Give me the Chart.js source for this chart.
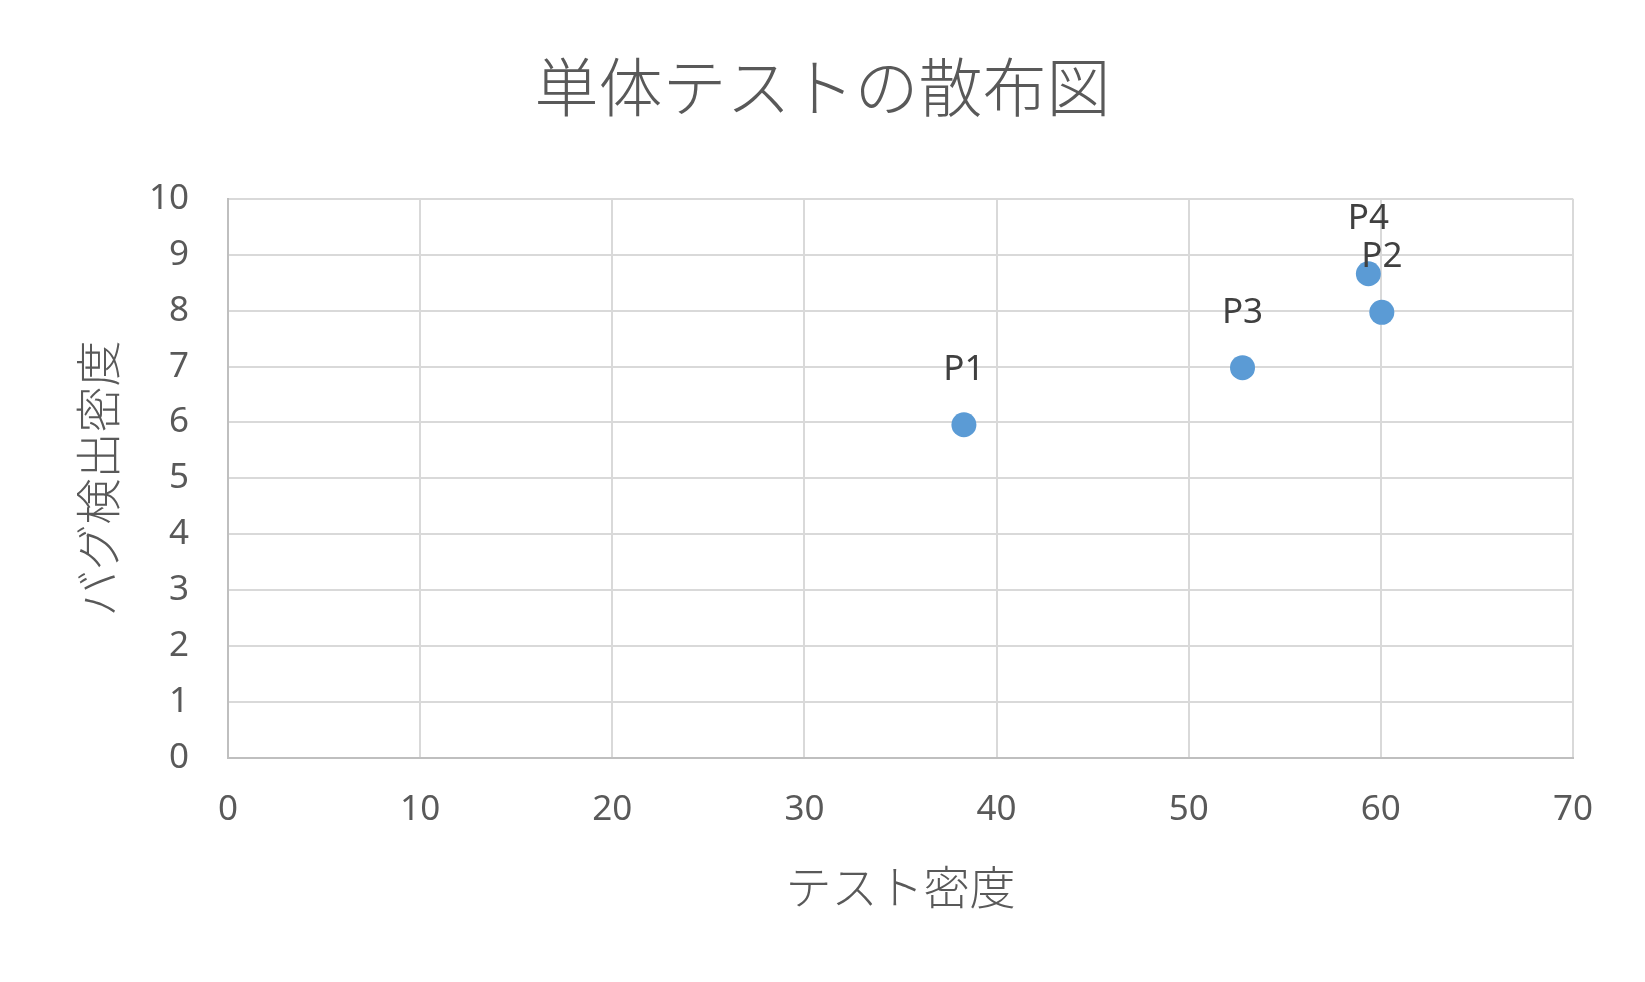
<!DOCTYPE html>
<html>
<head>
<meta charset="utf-8">
<script src="https://cdn.jsdelivr.net/npm/chart.js@4/dist/chart.umd.min.js"></script>
<style>
html,body{margin:0;padding:0;background:#fff;}
#wrap{width:1645px;height:982px;}
</style>
</head>
<body>
<div id="wrap"><canvas id="c" width="1645" height="982"></canvas></div>
<script>
const chartTitle = "単体テストの散布図";
const xAxisTitle = "テスト密度";
const yAxisTitle = "バグ検出密度";
const pointLabels = ["P1", "P2", "P3", "P4"];
const xValues = [38.3, 60.05, 52.8, 59.35];
const yValues = [5.96, 7.97, 6.98, 8.66];
const xTicks = [0, 10, 20, 30, 40, 50, 60, 70];
const yTicks = [0, 1, 2, 3, 4, 5, 6, 7, 8, 9, 10];

const latin = "'Noto Sans', 'Noto Sans CJK JP', sans-serif";
const cjk = "'Noto Sans CJK JP', 'Noto Sans', sans-serif";

const labelPlugin = {
  id: 'pointLabelsPlugin',
  afterDatasetsDraw(chart) {
    const ctx = chart.ctx;
    const meta = chart.getDatasetMeta(0);
    ctx.save();
    ctx.font = "35px " + latin;
    ctx.fillStyle = '#404040';
    ctx.textAlign = 'center';
    ctx.textBaseline = 'middle';
    meta.data.forEach((el, i) => {
      ctx.fillText(pointLabels[i], el.x, el.y - 55);
    });
    ctx.restore();
  }
};

const bgPlugin = {
  id: 'bg',
  beforeDraw(chart) {
    const ctx = chart.ctx;
    ctx.save();
    ctx.fillStyle = '#fff';
    ctx.fillRect(0, 0, chart.width, chart.height);
    ctx.restore();
  }
};

new Chart(document.getElementById('c'), {
  type: 'scatter',
  data: {
    datasets: [{
      data: xValues.map((x, i) => ({x: x, y: yValues[i]})),
      backgroundColor: '#5B9BD5',
      borderWidth: 0,
      pointRadius: 12.5,
      pointHoverRadius: 12.5
    }]
  },
  options: {
    responsive: false,
    animation: false,
    events: [],
    layout: { padding: { left: 0, right: 0, top: 0, bottom: 0 } },
    plugins: {
      legend: { display: false },
      tooltip: { enabled: false },
      title: {
        display: true,
        text: chartTitle,
        color: '#595959',
        font: { family: cjk, size: 64, weight: '300', lineHeight: 1.2 },
        padding: { top: 48, bottom: 74 }
      }
    },
    scales: {
      x: {
        type: 'linear',
        min: 0, max: 70,
        afterFit(s) { s.height = 224; },
        afterBuildTicks(s) { s.ticks = xTicks.map(v => ({value: v})); },
        grid: { color: '#D9D9D9', lineWidth: 2, drawTicks: false },
        border: { color: '#BFBFBF', width: 2 },
        ticks: { color: '#595959', font: { family: latin, size: 35 }, padding: 31 },
        title: {
          display: true, text: xAxisTitle, color: '#595959',
          font: { family: cjk, size: 46, weight: '300', lineHeight: 1.2 },
          padding: { top: 0, bottom: 68 }
        }
      },
      y: {
        type: 'linear',
        min: 0, max: 10,
        afterFit(s) { s.width = 228; },
        afterBuildTicks(s) { s.ticks = yTicks.map(v => ({value: v})); },
        grid: { color: '#D9D9D9', lineWidth: 2, drawTicks: false },
        border: { color: '#BFBFBF', width: 2 },
        ticks: { color: '#595959', font: { family: latin, size: 35 }, padding: 39 },
        title: {
          display: true, text: yAxisTitle, color: '#595959',
          font: { family: cjk, size: 46, weight: '300', lineHeight: 1.2 },
          padding: { top: 70, bottom: 0 }
        }
      },
      yRight: {
        type: 'linear',
        position: 'right',
        min: 0, max: 10,
        afterFit(s) { s.width = 72; },
        grid: { display: false, drawTicks: false },
        border: { display: false },
        ticks: { display: false }
      }
    }
  },
  plugins: [bgPlugin, labelPlugin]
});
</script>
</body>
</html>
